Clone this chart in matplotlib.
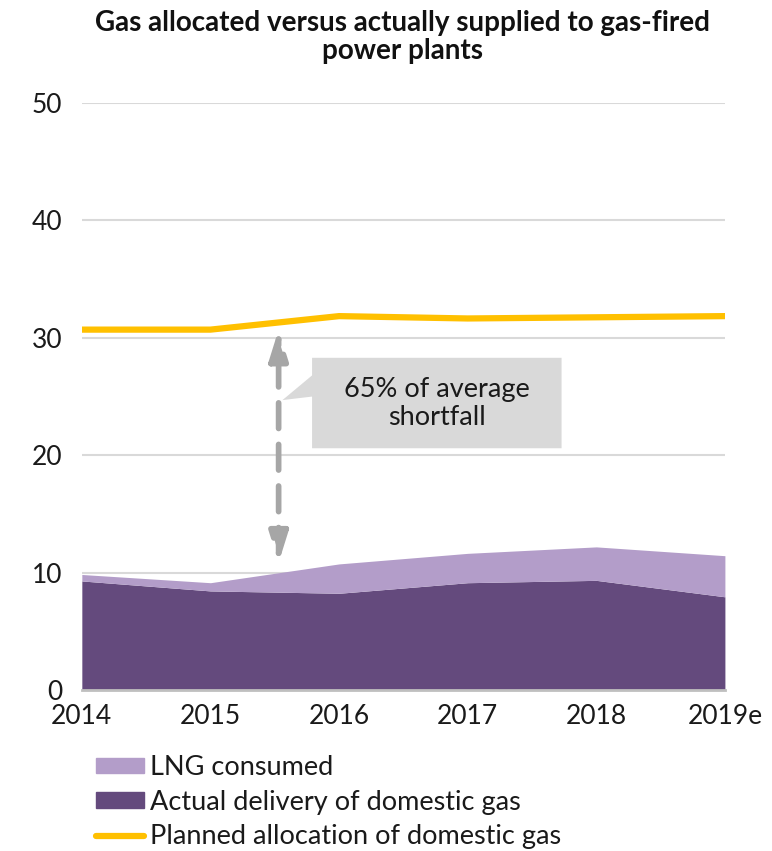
import matplotlib
matplotlib.use("Agg")
import matplotlib.pyplot as plt
from matplotlib.patches import Polygon, Patch
from matplotlib.lines import Line2D

plt.rcParams['font.family'] = ['Lato', 'DejaVu Sans']

years = ["2014", "2015", "2016", "2017", "2018", "2019e"]
domestic = [9.3, 8.45, 8.25, 9.15, 9.35, 7.95]
lng = [0.55, 0.7, 2.5, 2.5, 2.85, 3.5]
planned = [30.7, 30.7, 31.85, 31.65, 31.75, 31.85]

dark = "#644a7d"
light = "#b39dc9"
gold = "#ffc000"
grey = "#a6a6a6"
txt = "#1a1a1a"

x = list(range(len(years)))
total = [d + l for d, l in zip(domestic, lng)]

fig = plt.figure(figsize=(7.72, 8.51), dpi=100)
ax = fig.add_axes([0.106, 0.189, 0.833, 0.69])

ax.fill_between(x, 0, domestic, color=dark, lw=0, zorder=2)
ax.fill_between(x, domestic, total, color=light, lw=0, zorder=2)
ax.plot(x, planned, color=gold, lw=4.5, solid_capstyle='round', zorder=3)

ax.set_xlim(0, 5)
ax.set_ylim(0, 50)
ax.set_yticks([0, 10, 20, 30, 40, 50])
ax.set_xticks(x)
ax.set_xticklabels(years)
ax.tick_params(length=0, labelsize=19, colors=txt, pad=10)
ax.tick_params(axis='y', pad=14)
ax.grid(axis='y', color='#d9d9d9', lw=1.5, zorder=1)
ax.set_axisbelow(True)
for s in ['top', 'right', 'left']:
    ax.spines[s].set_visible(False)
ax.spines['bottom'].set_color('#bfbfbf')
ax.spines['bottom'].set_linewidth(2)
ax.spines['bottom'].set_zorder(4)

# shortfall arrow
ax.annotate('', xy=(1.53, 30.7), xytext=(1.53, 10.85),
            arrowprops=dict(arrowstyle='<|-|>,head_length=0.8,head_width=0.25',
                            color=grey, lw=4.1, linestyle=(0, (4.5, 2.8)),
                            mutation_scale=22, shrinkA=0, shrinkB=0), zorder=5)

# callout box
box = Polygon([(1.79, 28.3), (3.73, 28.3), (3.73, 20.6), (1.79, 20.6),
               (1.79, 25.0), (1.56, 24.7), (1.79, 26.8)],
              closed=True, facecolor='#d9d9d9', edgecolor='none', zorder=5)
ax.add_patch(box)
ax.text(2.76, 24.4, "65% of average\nshortfall", ha='center', va='center',
        fontsize=19.5, color=txt, linespacing=1.15, zorder=6)

fig.text(0.522, 0.957, "Gas allocated versus actually supplied to gas-fired\npower plants",
         ha='center', va='center', fontsize=20, fontweight='bold',
         color='#111111', linespacing=1.1)

handles = [Patch(color=light), Patch(color=dark),
           Line2D([0], [0], color=gold, lw=4.5, solid_capstyle='round')]
labels = ["LNG consumed", "Actual delivery of domestic gas",
          "Planned allocation of domestic gas"]
fig.legend(handles, labels, loc='upper left', bbox_to_anchor=(0.124, 0.113),
           frameon=False, fontsize=19.5, handlelength=1.78, handleheight=0.5,
           handletextpad=0.22, labelspacing=0.36, borderpad=0, borderaxespad=0,
           labelcolor=txt)

fig.savefig("out.png", dpi=100)
